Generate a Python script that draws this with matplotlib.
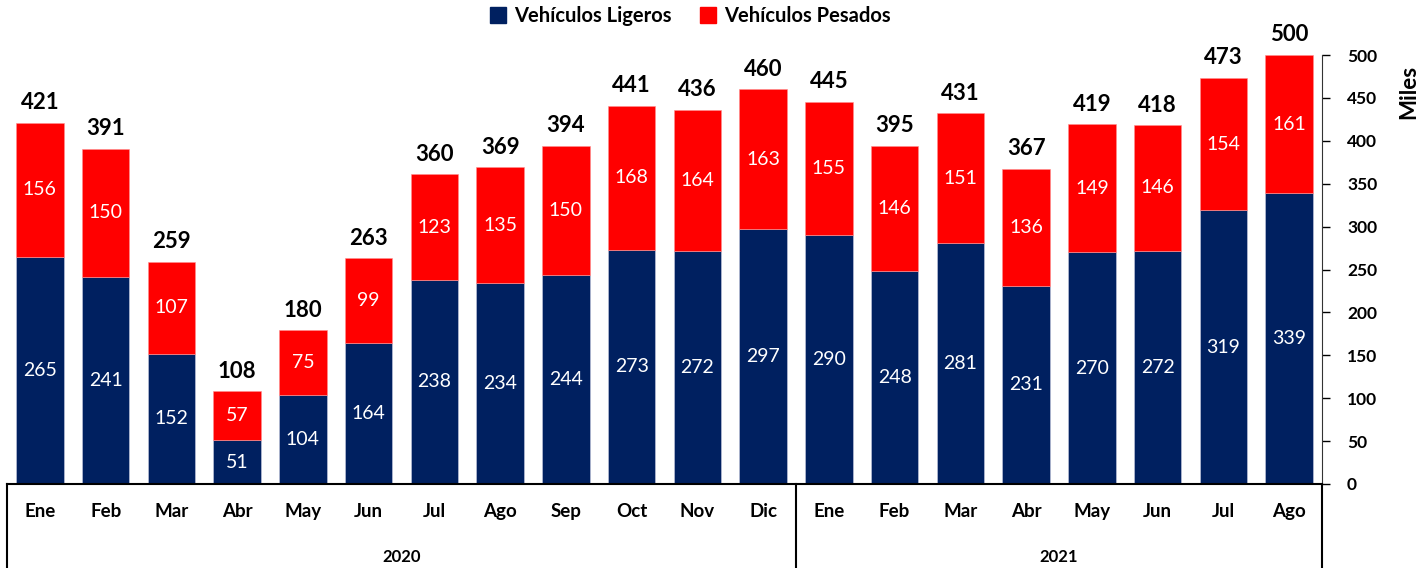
import matplotlib.pyplot as plt
from matplotlib.patches import Patch
from matplotlib.lines import Line2D
import matplotlib.transforms as mtransforms

plt.rcParams['font.family'] = ['Lato', 'DejaVu Sans']

# Datos (miles de vehículos)
meses = ['Ene', 'Feb', 'Mar', 'Abr', 'May', 'Jun', 'Jul', 'Ago', 'Sep', 'Oct', 'Nov', 'Dic',
         'Ene', 'Feb', 'Mar', 'Abr', 'May', 'Jun', 'Jul', 'Ago']
anios = ['2020', '2021']
meses_por_anio = [12, 8]
ligeros = [265, 241, 152, 51, 104, 164, 238, 234, 244, 273, 272, 297,
           290, 248, 281, 231, 270, 272, 319, 339]
pesados = [156, 150, 107, 57, 75, 99, 123, 135, 150, 168, 164, 163,
           155, 146, 151, 136, 149, 146, 154, 161]
totales = [421, 391, 259, 108, 180, 263, 360, 369, 394, 441, 436, 460,
           445, 395, 431, 367, 419, 418, 473, 500]
yticks = list(range(0, 501, 50))

azul = '#002060'
rojo = '#FF0000'

fig = plt.figure(figsize=(14.27, 5.68), dpi=100)
ax = fig.add_axes([7 / 1427, 84 / 568, 1315 / 1427, 429 / 568])

x = list(range(len(meses)))
ax.bar(x, ligeros, width=0.72, color=azul, edgecolor='#c8cce0', linewidth=0.4)
ax.bar(x, pesados, width=0.72, bottom=ligeros, color=rojo, edgecolor='#ff9090', linewidth=0.4)

for i in x:
    ax.text(i, ligeros[i] / 2, str(ligeros[i]), ha='center', va='center', color='white', fontsize=14)
    ax.text(i, ligeros[i] + pesados[i] / 2, str(pesados[i]), ha='center', va='center',
            color='white', fontsize=14)
    ax.annotate(str(totales[i]), (i, ligeros[i] + pesados[i]), xytext=(0, 7),
                textcoords='offset points', ha='center', va='bottom',
                fontsize=16, fontweight='bold', annotation_clip=False)

ax.set_xlim(-0.5, len(meses) - 0.5)
ax.set_ylim(0, 500)
ax.yaxis.tick_right()
ax.set_yticks(yticks)
ax.set_yticklabels([str(v) for v in yticks], fontsize=12.5, fontweight='bold')
ax.tick_params(axis='y', length=6, width=1, pad=12)
ax.set_xticks([])
ax.yaxis.set_label_position('right')
ax.set_ylabel('Miles', fontsize=16, fontweight='bold', va='center')
ax.yaxis.set_label_coords(1.066, 0.915)

ax.spines['top'].set_visible(False)
ax.spines['left'].set_visible(False)
ax.spines['right'].set_color('#333333')
ax.spines['bottom'].set_linewidth(1.5)

# Etiquetas de mes y año
trans = mtransforms.blended_transform_factory(ax.transData, ax.transAxes)
for i, m in enumerate(meses):
    ax.text(i, -0.065, m, transform=trans, ha='center', va='center',
            fontsize=13.5, fontweight='bold')
inicio = -0.5
for anio, n in zip(anios, meses_por_anio):
    ax.text(inicio + n / 2, -0.17, anio, transform=trans, ha='center', va='center',
            fontsize=12, fontweight='bold')
    inicio += n

# Líneas de la tabla inferior
for xv in [-0.5, 11.5, len(meses) - 0.5]:
    ax.add_line(Line2D([xv, xv], [0, -0.2], transform=trans, color='black',
                       linewidth=1.5, clip_on=False))

handles = [Patch(color=azul), Patch(color=rojo)]
fig.legend(handles, ['Vehículos Ligeros', 'Vehículos Pesados'], loc='center',
           bbox_to_anchor=(0.484, 0.972), ncol=2, frameon=False,
           prop={'size': 14.5, 'weight': 'bold'}, handlelength=0.8, handleheight=0.8,
           columnspacing=1.4, handletextpad=0.4)

fig.savefig('out.png', dpi=100)
